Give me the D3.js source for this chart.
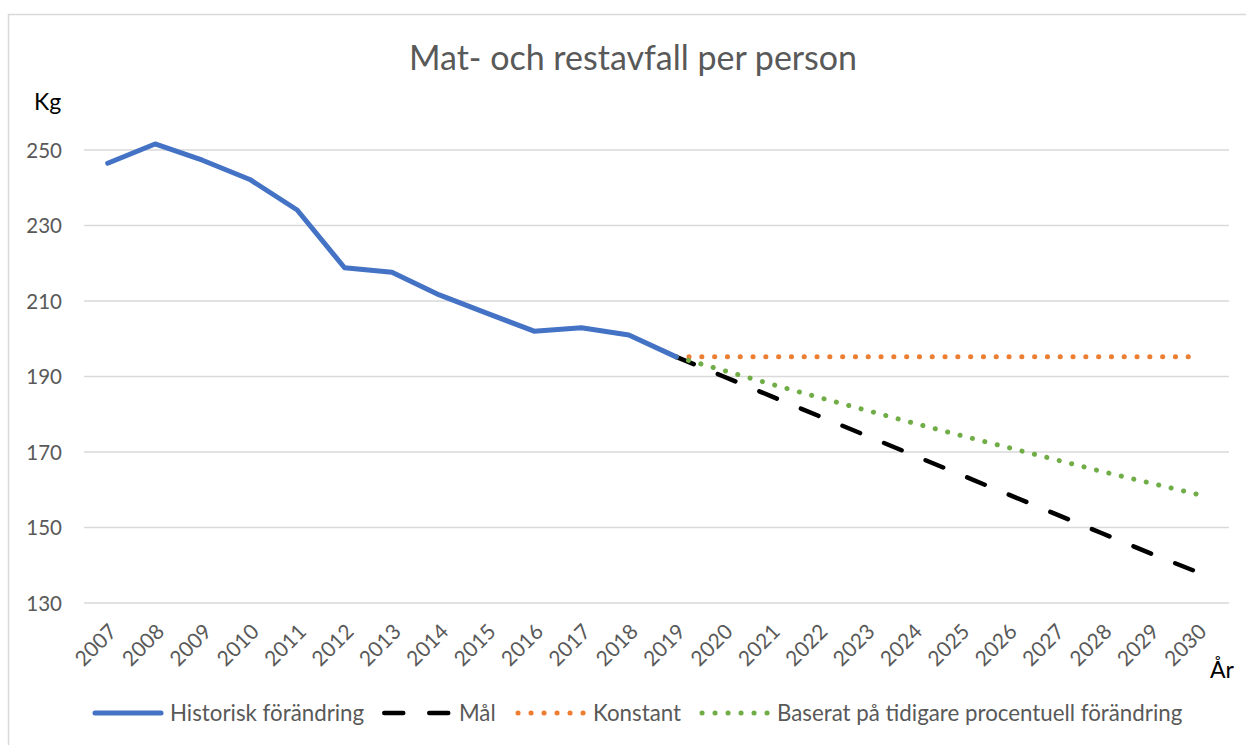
<!DOCTYPE html>
<html>
<head>
<meta charset="utf-8">
<script src="https://cdn.jsdelivr.net/npm/d3@7"></script>
<style>
  body { margin: 0; background: #fff; }
  svg { font-family: Lato, "Open Sans", sans-serif; }
</style>
</head>
<body>
<svg id="chart" width="1246" height="745"></svg>
<script>
// years on the category axis
var years = ["2007", "2008", "2009", "2010", "2011", "2012", "2013", "2014", "2015", "2016", "2017", "2018",
    "2019", "2020", "2021", "2022", "2023", "2024", "2025", "2026", "2027", "2028", "2029", "2030"];

// kg per person
var historisk = [246.5, 251.6, 247.3, 242.2, 234.1, 218.8, 217.6, 211.6, 206.8, 202.0, 202.9, 201.0, 195.2];
var mal = [195.2, 190.0, 184.8, 179.6, 174.4, 169.2, 164.0, 158.8, 153.6, 148.4, 143.2, 138.2];
var konstant = [195.2, 195.2, 195.2, 195.2, 195.2, 195.2, 195.2, 195.2, 195.2, 195.2, 195.2, 195.2];
var procentuell = [195.2, 191.6, 188.0, 184.5, 181.1, 177.7, 174.4, 171.2, 168.0, 164.8, 161.8, 158.8];

var yTicks = [130, 150, 170, 190, 210, 230, 250];

(function () {
    var svg = d3.select("#chart"),
        plotLeft = 84,
        plotRight = 1221,
        plotTop = 150,
        plotBottom = 603;

    // outer chart frame
    svg.append("rect")
        .attr("x", 8.5).attr("y", 14.5)
        .attr("width", 1260).attr("height", 760)
        .attr("fill", "#fff")
        .attr("stroke", "#d9d9d9")
        .attr("stroke-width", 1.5);

    var x = d3.scalePoint().domain(years).range([plotLeft, plotRight]).padding(0.5),
        y = d3.scaleLinear().domain([130, 250]).range([plotBottom, plotTop]);

    // gridlines
    svg.append("g")
        .selectAll("line")
        .data(yTicks)
        .enter()
        .append("line")
        .attr("x1", plotLeft).attr("x2", 1229)
        .attr("y1", function (d) { return y(d); })
        .attr("y2", function (d) { return y(d); })
        .attr("stroke", "#d9d9d9")
        .attr("stroke-width", 1.5);

    // y axis labels
    var yAxis = d3.axisLeft(y).tickValues(yTicks).tickSize(0).tickPadding(22);
    var gy = svg.append("g").attr("transform", "translate(" + plotLeft + ",0)").call(yAxis);
    gy.select(".domain").remove();
    gy.selectAll("text")
        .attr("fill", "#595959")
        .attr("dy", "0.36em")
        .style("font-size", "20.5px")
        .style("font-family", "Lato, sans-serif");

    // x axis labels, rotated
    var xAxis = d3.axisBottom(x).tickSize(0).tickPadding(0);
    var gx = svg.append("g").attr("transform", "translate(0," + plotBottom + ")").call(xAxis);
    gx.select(".domain").remove();
    gx.selectAll("text")
        .attr("fill", "#595959")
        .style("font-size", "21px")
        .style("font-family", "Lato, sans-serif")
        .attr("text-anchor", "end")
        .attr("dy", null)
        .attr("y", 0)
        .attr("transform", "translate(10,30) rotate(-45)");

    function linePath(startIndex) {
        return d3.line()
            .x(function (d, i) { return x(years[startIndex + i]); })
            .y(function (d) { return y(d); });
    }

    // forecast series first, history on top
    svg.append("path")
        .datum(konstant)
        .attr("d", linePath(12))
        .attr("fill", "none")
        .attr("stroke", "#ed7d31")
        .attr("stroke-width", 5)
        .attr("stroke-linecap", "round")
        .attr("stroke-dasharray", "0.1,12.7");

    svg.append("path")
        .datum(mal)
        .attr("d", linePath(12))
        .attr("fill", "none")
        .attr("stroke", "#000")
        .attr("stroke-width", 4.5)
        .attr("stroke-linecap", "round")
        .attr("stroke-dasharray", "19,26");

    svg.append("path")
        .datum(procentuell)
        .attr("d", linePath(12))
        .attr("fill", "none")
        .attr("stroke", "#70ad47")
        .attr("stroke-width", 5)
        .attr("stroke-linecap", "round")
        .attr("stroke-dasharray", "0.1,12.7");

    svg.append("path")
        .datum(historisk)
        .attr("d", linePath(0))
        .attr("fill", "none")
        .attr("stroke", "#4472c4")
        .attr("stroke-width", 5)
        .attr("stroke-linecap", "round")
        .attr("stroke-linejoin", "round");

    // title and axis titles
    svg.append("text")
        .attr("x", 633).attr("y", 70)
        .attr("text-anchor", "middle")
        .attr("fill", "#595959")
        .style("font-size", "34px")
        .text("Mat- och restavfall per person");

    svg.append("text")
        .attr("x", 34).attr("y", 110)
        .attr("fill", "#000")
        .style("font-size", "23px")
        .text("Kg");

    svg.append("text")
        .attr("x", 1210).attr("y", 678)
        .attr("fill", "#000")
        .style("font-size", "23px")
        .text("År");

    // legend
    var legend = [
        {name: "Historisk förändring", color: "#4472c4", dash: null, x1: 95, x2: 161, tx: 170, sw: 5},
        {name: "Mål", color: "#000", dash: "19,26", x1: 384.25, x2: 450, tx: 459, sw: 4.5},
        {name: "Konstant", color: "#ed7d31", dash: "0.1,12.9", x1: 518, x2: 584, tx: 593, sw: 5},
        {name: "Baserat på tidigare procentuell förändring", color: "#70ad47", dash: "0.1,12.9", x1: 702, x2: 768, tx: 777, sw: 5}
    ];

    var lg = svg.append("g").selectAll("g").data(legend).enter().append("g");

    lg.append("line")
        .attr("x1", function (d) { return d.x1; })
        .attr("x2", function (d) { return d.x2; })
        .attr("y1", 713).attr("y2", 713)
        .attr("stroke", function (d) { return d.color; })
        .attr("stroke-width", function (d) { return d.sw; })
        .attr("stroke-linecap", "round")
        .attr("stroke-dasharray", function (d) { return d.dash; });

    lg.append("text")
        .attr("x", function (d) { return d.tx; })
        .attr("y", 721)
        .attr("fill", "#595959")
        .style("font-size", "22.3px")
        .text(function (d) { return d.name; });
})();
</script>
</body>
</html>
